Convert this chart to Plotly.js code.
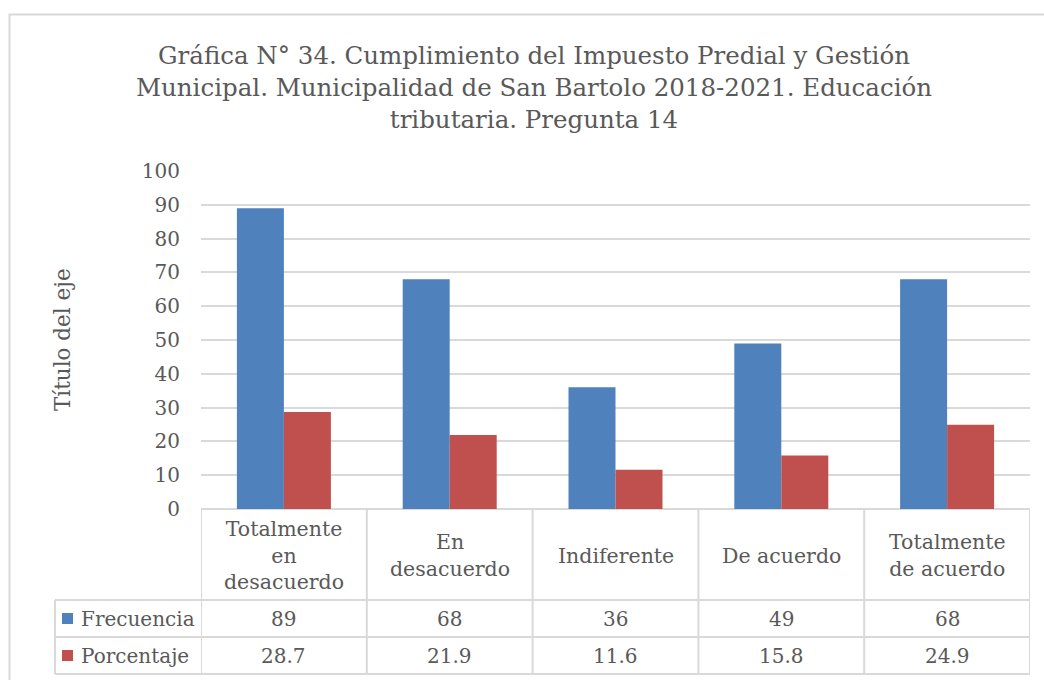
<!DOCTYPE html>
<html>
<head>
<meta charset="utf-8">
<script src="https://cdn.plot.ly/plotly-3.0.1.min.js"></script>
<style>
  html, body { margin: 0; padding: 0; background: #ffffff; }
  #chart { width: 1044px; height: 680px; }
</style>
</head>
<body>
<div id="chart"></div>
<script>
// Response categories (line breaks as shown in the data table header)
const categories = ["Totalmente en desacuerdo", "En desacuerdo", "Indiferente", "De acuerdo", "Totalmente de acuerdo"];
const headerLabels = ["Totalmente<br>en<br>desacuerdo", "En<br>desacuerdo", "Indiferente", "De acuerdo", "Totalmente<br>de acuerdo"];

// Series
const seriesNames = ["Frecuencia", "Porcentaje"];
const frecuencia = [89, 68, 36, 49, 68];
const porcentaje = [28.7, 21.9, 11.6, 15.8, 24.9];
const seriesValues = [frecuencia, porcentaje];
const seriesColors = ["#4F81BD", "#C0504D"];

const yTicks = [0, 10, 20, 30, 40, 50, 60, 70, 80, 90, 100];

const FONT = "DejaVu Serif, Cambria, serif";
const TEXT = "#595959";
const LINE = "#d9d9d9";

// Pixel geometry of the plotting area, used to place table pieces in paper units
const W = 1044, H = 680;
const M = { l: 201, r: 14, t: 171, b: 171 };
const PW = W - M.l - M.r, PH = H - M.t - M.b;
const px = x => (x - M.l) / PW;          // page x -> paper x
const py = y => (H - M.b - y) / PH;      // page y -> paper y

const xIdx = categories.map((_, i) => i);

const traces = seriesNames.map((name, s) => ({
  type: "bar",
  name: name,
  x: xIdx,
  y: seriesValues[s],
  marker: { color: seriesColors[s], line: { width: 0 } },
  hoverinfo: "x+y+name"
}));

// Data table rows
const rowHeaderBottom = py(600);
const rowOneBottom = py(637);
const rowTwoBottom = py(674);
const tableLeft = px(55);

const shapes = [];
// Outer frame of the chart
shapes.push({ type: "rect", xref: "paper", yref: "paper",
  x0: px(9.5), x1: px(1060), y0: py(14.5), y1: py(700),
  line: { color: LINE, width: 2 }, fillcolor: "rgba(0,0,0,0)", layer: "below" });
// Vertical separators of the category columns
for (let i = 0; i <= categories.length; i++) {
  shapes.push({ type: "line", xref: "x", yref: "paper",
    x0: i - 0.5, x1: i - 0.5, y0: 0, y1: rowTwoBottom,
    line: { color: LINE, width: 2 } });
}
// Left edge of the series-name column
shapes.push({ type: "line", xref: "paper", yref: "paper",
  x0: tableLeft, x1: tableLeft, y0: rowHeaderBottom, y1: rowTwoBottom,
  line: { color: LINE, width: 2 } });
// Horizontal row lines
[rowHeaderBottom, rowOneBottom, rowTwoBottom].forEach(yv => {
  shapes.push({ type: "line", xref: "paper", yref: "paper",
    x0: tableLeft, x1: 1, y0: yv, y1: yv,
    line: { color: LINE, width: 2 } });
});
// Legend keys in the table
const rowCenters = [py(618.5), py(655.5)];
seriesNames.forEach((_, s) => {
  const c = 618.5 + s * 37;
  shapes.push({ type: "rect", xref: "paper", yref: "paper",
    x0: px(62), x1: px(73), y0: py(c - 5.5), y1: py(c + 5.5),
    line: { width: 0 }, fillcolor: seriesColors[s] });
});

const annotations = [];
// Column headers
headerLabels.forEach((lab, i) => {
  annotations.push({ xref: "x", yref: "paper", x: i, y: py(555.5),
    text: lab, showarrow: false, xanchor: "center", yanchor: "middle",
    font: { family: FONT, size: 20.5, color: TEXT } });
});
// Series names and values
seriesNames.forEach((name, s) => {
  annotations.push({ xref: "paper", yref: "paper", x: px(79), y: rowCenters[s],
    text: name, showarrow: false, xanchor: "left", yanchor: "middle",
    font: { family: FONT, size: 20, color: TEXT } });
  seriesValues[s].forEach((v, i) => {
    annotations.push({ xref: "x", yref: "paper", x: i, y: rowCenters[s],
      text: String(v), showarrow: false, xanchor: "center", yanchor: "middle",
      font: { family: FONT, size: 20, color: TEXT } });
  });
});
// Axis title
annotations.push({ xref: "paper", yref: "paper", x: px(62), y: py(340),
  text: "Título del eje", textangle: -90, showarrow: false,
  xanchor: "center", yanchor: "middle",
  font: { family: FONT, size: 21.5, color: TEXT } });

const layout = {
  width: W, height: H,
  margin: M,
  paper_bgcolor: "#ffffff",
  plot_bgcolor: "#ffffff",
  showlegend: false,
  barmode: "group",
  bargap: 0.433,
  bargroupgap: 0,
  title: {
    text: "Gráfica N° 34. Cumplimiento del Impuesto Predial y Gestión<br>Municipal. Municipalidad de San Bartolo 2018-2021. Educación<br>tributaria. Pregunta 14",
    x: 534 / W, xref: "container", xanchor: "center",
    y: 1 - 64 / H, yref: "container", yanchor: "top",
    font: { family: FONT, size: 24.5, color: TEXT }
  },
  xaxis: {
    range: [-0.5, categories.length - 0.5],
    showticklabels: false, showgrid: false, zeroline: false,
    showline: false, ticks: "", fixedrange: true
  },
  yaxis: {
    range: [0, 100],
    tickvals: yTicks,
    ticktext: yTicks.map(String),
    showgrid: true, gridcolor: LINE, gridwidth: 2,
    zeroline: true, zerolinecolor: LINE, zerolinewidth: 2,
    showline: false, ticks: "",
    ticklabelstandoff: 20,
    tickfont: { family: FONT, size: 20, color: TEXT },
    fixedrange: true
  },
  shapes: shapes,
  annotations: annotations
};

Plotly.newPlot("chart", traces, layout, { displayModeBar: false, staticPlot: true });
</script>
</body>
</html>
